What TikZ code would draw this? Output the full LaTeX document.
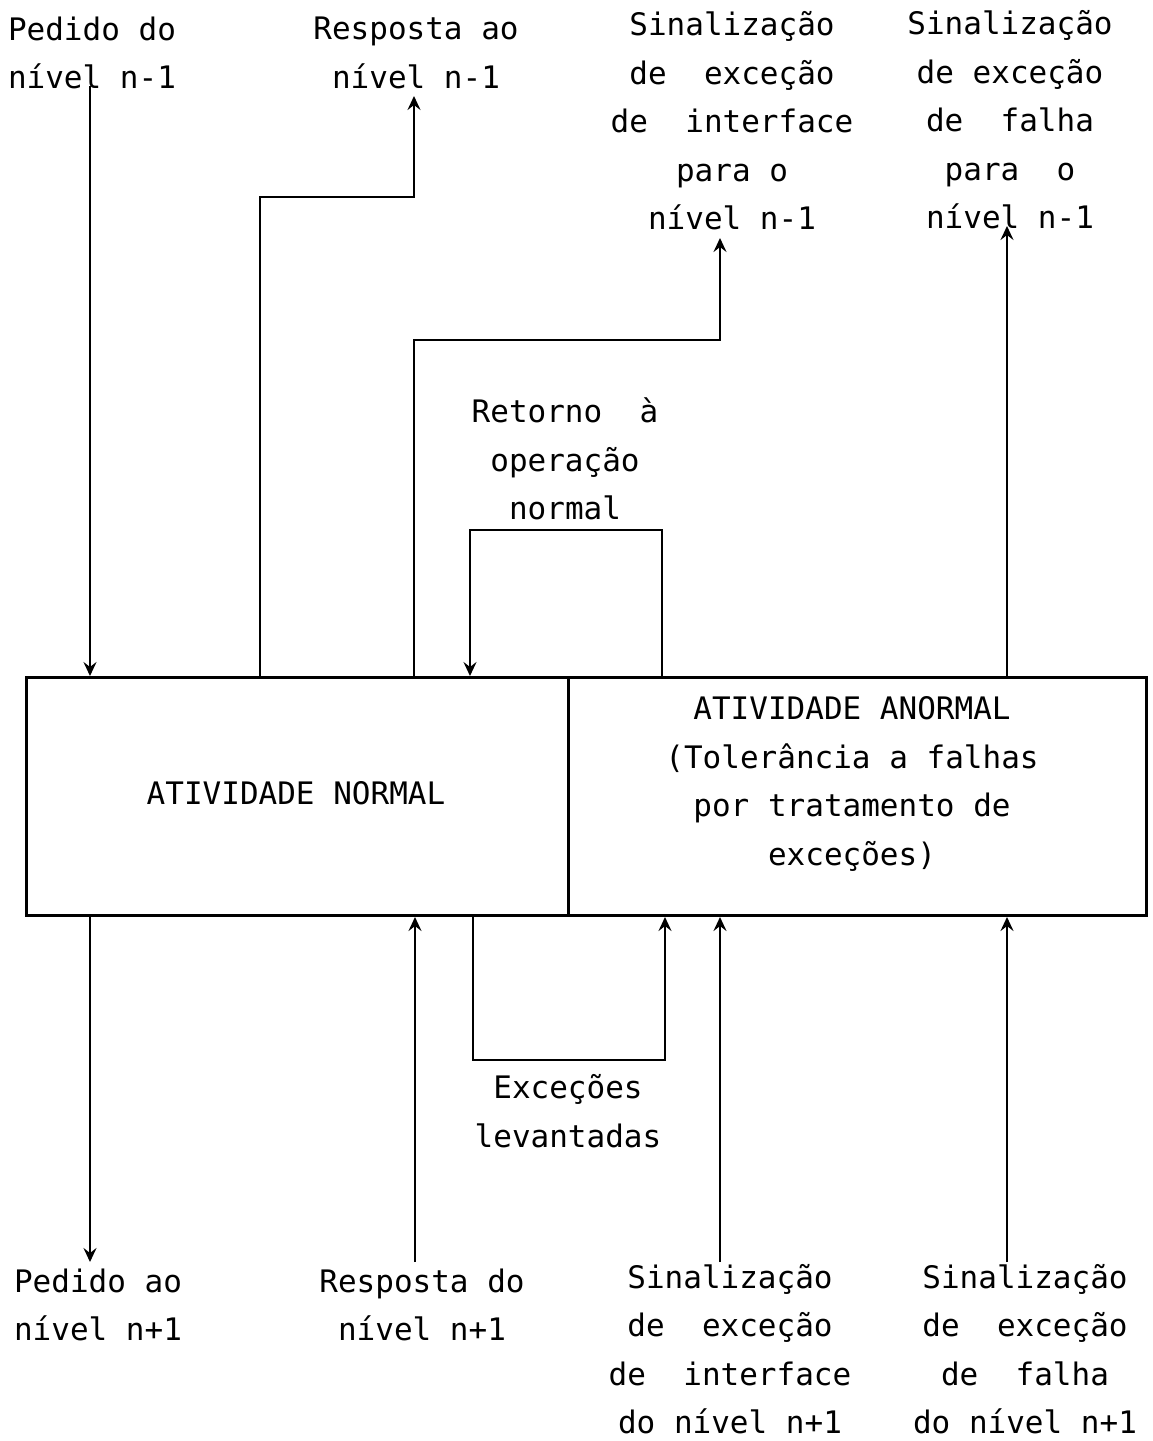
\documentclass[tikz,border=0pt]{standalone}
\usepackage{fontspec}
\newfontfamily\plotfont{DejaVu Sans Mono}
\usetikzlibrary{arrows.meta}

\begin{document}
\begin{tikzpicture}[x=1pt,y=-1pt,
  lbl/.style={font=\plotfont\fontsize{31}{48.5}\selectfont, align=center, inner sep=0pt},
  blk/.style={draw, line width=3pt, inner sep=0pt, anchor=north west},
  wire/.style={line width=2.8pt},
  arr/.style={wire, -{Stealth[length=14pt,width=13pt,inset=5pt]}}
]
\useasboundingbox (0,0) rectangle (1153,1441);

% the two activity blocks
\node[blk, minimum width=542pt, minimum height=238pt] (normal) at (25,676) {};
\node[blk, minimum width=578pt, minimum height=238pt] (anormal) at (567,676) {};
\node[lbl] (tnormal) at (296,793) {ATIVIDADE NORMAL};
\node[lbl] (tanormal) at (852,784) {ATIVIDADE ANORMAL\\(Tolerância a falhas\\por tratamento de\\exceções)};

% labels above
\node[lbl] (l1) at (92,53) {Pedido do\\nível n-1};
\node[lbl] (l2) at (416,53) {Resposta ao\\nível n-1};
\node[lbl] (l3) at (732,121) {Sinalização\\de~~exceção\\de~~interface\\para o\\nível n-1};
\node[lbl] (l4) at (1010,120) {Sinalização\\de exceção\\de~~falha\\para~~o\\nível n-1};
\node[lbl] (lret) at (565,459) {Retorno~~à\\operação\\normal};

% labels below
\node[lbl] (b1) at (98,1305) {Pedido ao\\nível n+1};
\node[lbl] (b2) at (422,1305) {Resposta do\\nível n+1};
\node[lbl] (b3) at (730,1349) {Sinalização\\de~~exceção\\de~~interface\\do nível n+1};
\node[lbl] (b4) at (1025,1349) {Sinalização\\de~~exceção\\de~~falha\\do nível n+1};
\node[lbl] (lexc) at (568,1111) {Exceções\\levantadas};

% connector end points
\coordinate (p1) at (90,86);
\coordinate (c2) at (260,197);
\coordinate (p2) at (414,96);
\coordinate (c3) at (414,340);
\coordinate (p3) at (720,238);
\coordinate (p4) at (1007,226);
\coordinate (r1) at (470,530);
\coordinate (r2) at (662,530);
\coordinate (q1) at (90,1262);
\coordinate (q2) at (415,1262);
\coordinate (q3) at (720,1262);
\coordinate (q4) at (1007,1262);
\coordinate (e1) at (473,1060);
\coordinate (e2) at (665,1060);

% connections to the upper level
\draw[arr] (p1) -- (p1 |- normal.north);
\draw[arr] (c2 |- normal.north) -- (c2) -| (p2);
\draw[arr] (c3 |- normal.north) -- (c3) -| (p3);
\draw[arr] (p4 |- anormal.north) -- (p4);

% return to normal operation
\draw[arr] (r2 |- anormal.north) -- (r2) -- (r1) -- (r1 |- normal.north);

% raised exceptions
\draw[arr] (e1 |- normal.south) -- (e1) -- (e2) -- (e2 |- anormal.south);

% connections to the lower level
\draw[arr] (q1 |- normal.south) -- (q1);
\draw[arr] (q2) -- (q2 |- normal.south);
\draw[arr] (q3) -- (q3 |- anormal.south);
\draw[arr] (q4) -- (q4 |- anormal.south);
\end{tikzpicture}
\end{document}
